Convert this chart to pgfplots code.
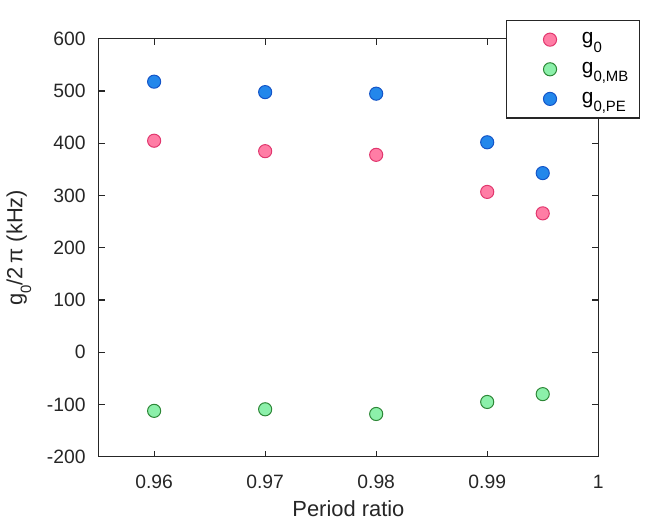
\documentclass[border=0pt]{standalone}
\usepackage{pgfplots}
\pgfplotsset{compat=1.18}
\usepackage{fontspec}
\setmainfont{Liberation Sans}
\definecolor{pinkf}{RGB}{255,125,165}
\definecolor{pinke}{RGB}{225,55,110}
\definecolor{greenf}{RGB}{140,240,170}
\definecolor{greene}{RGB}{45,135,55}
\definecolor{bluef}{RGB}{35,135,235}
\definecolor{bluee}{RGB}{20,85,200}
\definecolor{axc}{RGB}{38,38,38}
\newcommand{\sub}[1]{\raisebox{-0.75ex}{\fontsize{7.5}{9}\selectfont #1}}
\begin{document}
\begin{tikzpicture}
\begin{axis}[
  scale only axis,
  width=251pt, height=210pt,
  xmin=0.955, xmax=1, ymin=-200, ymax=600,
  xtick={0.96,0.97,0.98,0.99,1},
  xticklabels={0.96,0.97,0.98,0.99,1},
  ytick={-200,-100,0,100,200,300,400,500,600},
  tick align=inside,
  major tick length=3pt,
  axis line style={axc, line width=0.6pt},
  tick style={axc, line width=0.6pt},
  ticklabel style={font=\fontsize{9.7}{11}\selectfont, text=axc},
  xticklabel style={yshift=-5.5pt},
  yticklabel style={xshift=-3pt},
  /pgf/number format/assume math mode=true,
  xlabel={Period ratio},
  ylabel={g\sub{0}/2\,π (kHz)},
  label style={font=\fontsize{11}{13}\selectfont, text=axc},
  xlabel style={yshift=1pt},
  ylabel style={yshift=1pt},
  legend style={at={(rel axis cs:1.084,1.045)}, anchor=north east,
    draw=axc, line width=0.6pt, font=\fontsize{10.5}{12}\selectfont,
    row sep=3.75pt, inner xsep=6pt, inner ysep=4pt,
    legend cell align=left},
  legend image code/.code={\path[draw=none,fill=none] (0,0) -- (30pt,0); \draw[#1] (16pt,0pt) circle (3.3pt);},
  clip=false,
]
\addplot[only marks, mark=*, mark size=3.3pt, mark options={fill=pinkf, draw=pinke, line width=0.5pt}, fill=pinkf, draw=pinke, line width=0.5pt]
 coordinates {(0.96,405) (0.97,385) (0.98,378) (0.99,307) (0.995,266)};
\addlegendentry{\makebox[21pt][l]{g\sub{0}}}
\addplot[only marks, mark=*, mark size=3.3pt, mark options={fill=greenf, draw=greene, line width=0.5pt}, fill=greenf, draw=greene, line width=0.5pt]
 coordinates {(0.96,-112) (0.97,-109) (0.98,-118) (0.99,-95) (0.995,-80)};
\addlegendentry{\makebox[21pt][l]{g\sub{0,MB}}}
\addplot[only marks, mark=*, mark size=3.3pt, mark options={fill=bluef, draw=bluee, line width=0.5pt}, fill=bluef, draw=bluee, line width=0.5pt]
 coordinates {(0.96,518) (0.97,498) (0.98,495) (0.99,402) (0.995,343)};
\addlegendentry{\makebox[21pt][l]{g\sub{0,PE}}}
\end{axis}
\useasboundingbox ([shift={(-48pt,-36.5pt)}]current axis.south west) rectangle ([shift={(-48pt,-36.5pt)}]current axis.south west) ++(325pt,266pt);
\end{tikzpicture}
\end{document}
